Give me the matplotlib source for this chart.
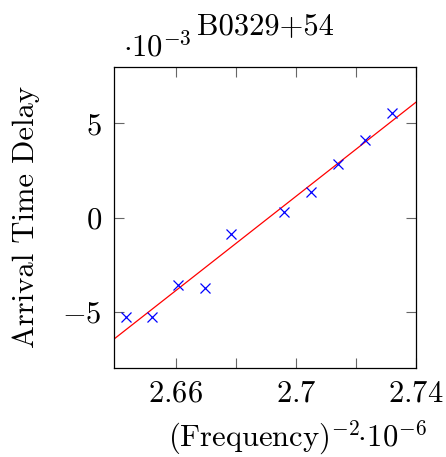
import numpy as np
import matplotlib
matplotlib.use("Agg")
import matplotlib.pyplot as plt

# (Frequency)^-2 in units of 1e-6, arrival time delay in units of 1e-3
freq_inv_sq = [2.6435, 2.6521, 2.6609, 2.6697, 2.6784, 2.6962, 2.7051, 2.7139, 2.7231, 2.7321]
delay = [-5.24, -5.24, -3.58, -3.72, -0.86, 0.29, 1.36, 2.84, 4.11, 5.56]

# fitted line: delay = intercept + slope * (x - 2.7)
fit_slope = 124.9
fit_intercept = 1.124

xticks = [2.66, 2.68, 2.70, 2.72, 2.74]
xtick_labels = ["$2.66$", "", "$2.7$", "", "$2.74$"]
yticks = [-5, 0, 5]
ytick_labels = ["$-5$", "$0$", "$5$"]

plt.rcParams["font.family"] = "serif"
plt.rcParams["font.serif"] = ["cmr10", "DejaVu Serif"]
plt.rcParams["mathtext.fontset"] = "cm"
plt.rcParams["axes.unicode_minus"] = False

FS = 22

fig = plt.figure(figsize=(4.46, 4.57), dpi=100)
ax = fig.add_axes([0.2563, 0.1954, 0.6764, 0.6586])

xlim = (2.6396, 2.74)
ylim = (-7.95, 8.0)

lx = np.array(xlim)
ax.plot(lx, fit_intercept + fit_slope * (lx - 2.7), color="red", linewidth=0.9)
ax.plot(freq_inv_sq, delay, linestyle="none", marker="x", color="blue",
        markersize=7, markeredgewidth=0.9)

ax.set_xlim(*xlim)
ax.set_ylim(*ylim)
ax.set_xticks(xticks)
ax.set_xticklabels(xtick_labels)
ax.set_yticks(yticks)
ax.set_yticklabels(ytick_labels)
ax.tick_params(direction="in", length=7, width=0.8, color="#666666",
               top=True, right=True, labelsize=FS, pad=9)
for sp in ax.spines.values():
    sp.set_linewidth(0.9)

ax.set_ylabel("Arrival Time Delay", fontsize=FS, labelpad=16)
fig.text(298 / 446, 1 - 438 / 457, r"(Frequency)$^{\mathsf{-}2}\!\!\cdot\!10^{-6}$",
         fontsize=FS, ha="center", va="center")
fig.text(123 / 446, 1 - 47 / 457, r"$\cdot 10^{-3}$", fontsize=FS, ha="left", va="center")
fig.text(265 / 446, 1 - 26 / 457, "B0329+54", fontsize=FS, ha="center", va="center")

fig.savefig("out.png", dpi=100)
